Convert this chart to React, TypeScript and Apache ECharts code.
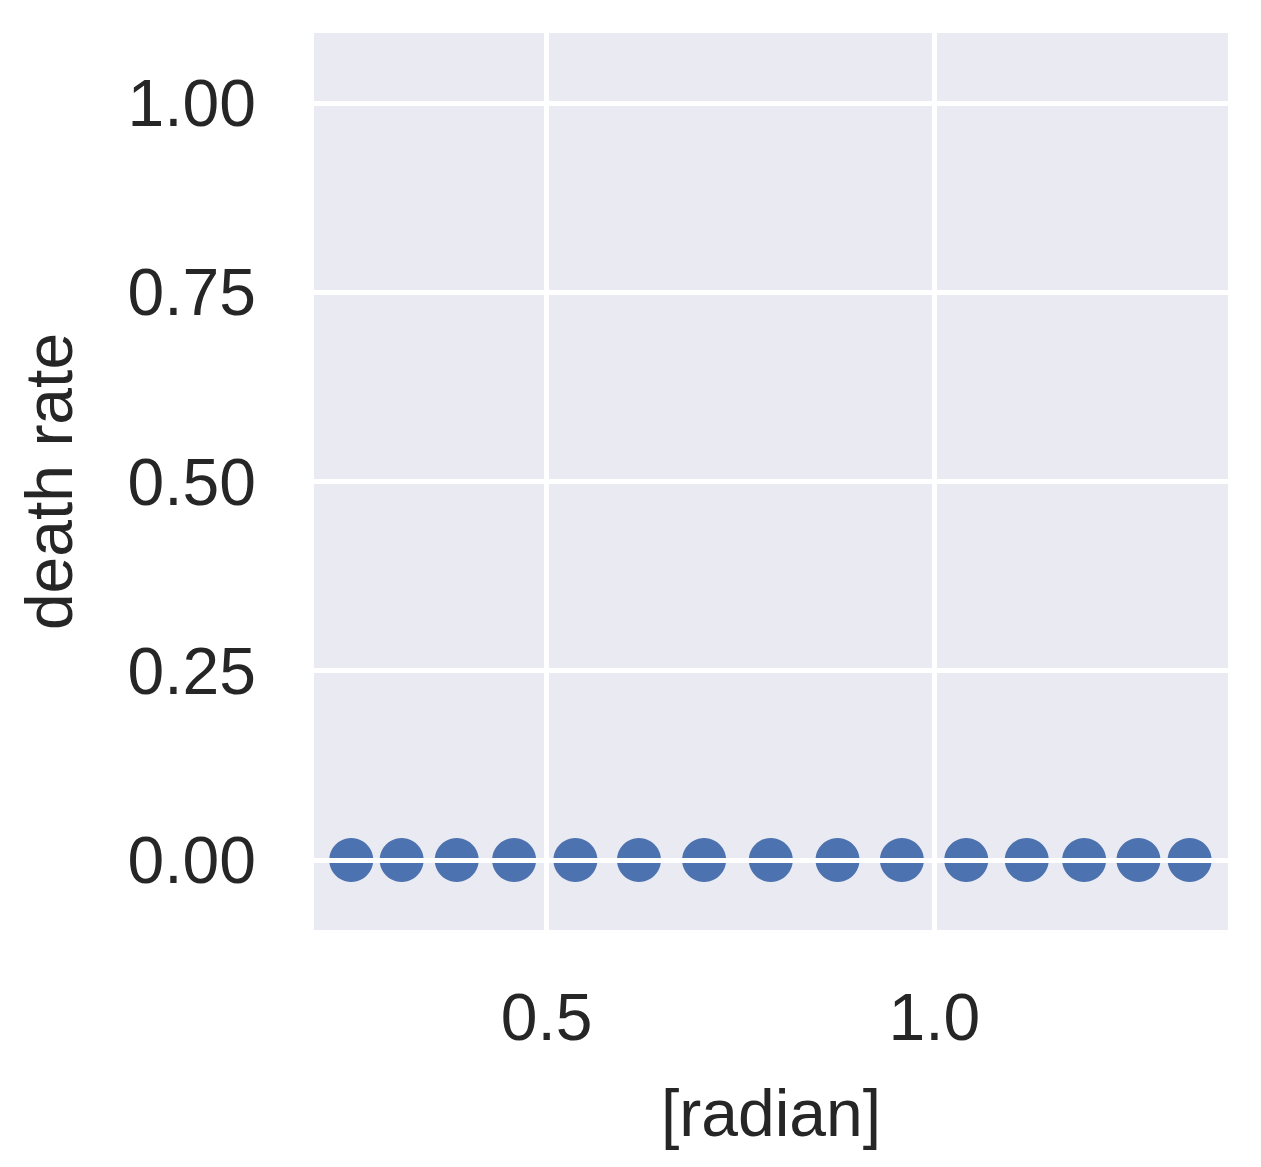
import React, { useEffect, useRef } from "react";
import * as echarts from "echarts";

const xValues = [0.248, 0.313, 0.384, 0.458, 0.537, 0.619, 0.703, 0.789, 0.875, 0.958, 1.041, 1.119, 1.193, 1.263, 1.329];
const yValues = [0, 0, 0, 0, 0, 0, 0, 0, 0, 0, 0, 0, 0, 0, 0];
const xTicks = [0.5, 1.0];
const yTicks = [0, 0.25, 0.5, 0.75, 1.0];

const font = "'Liberation Sans', Arial, sans-serif";
const textColor = "#262626";

export default function App() {
  const chartRef = useRef<HTMLDivElement>(null);

  useEffect(() => {
    if (!chartRef.current) return;
    const chart = echarts.init(chartRef.current, undefined, { renderer: "svg" });

    const gridLine = { color: "#ffffff", width: 5, type: "solid" };

    chart.setOption({
      animation: false,
      grid: {
        left: 298,
        right: 25,
        top: 25,
        bottom: 229,
        show: true,
        backgroundColor: "#EAEAF2",
        borderWidth: 0,
      },
      xAxis: {
        type: "value",
        min: 0.2,
        max: 1.3785,
        name: "[radian]",
        nameLocation: "middle",
        nameGap: 150,
        nameTextStyle: { fontSize: 66, color: textColor, fontFamily: font },
        axisLine: { show: false },
        axisTick: { show: false },
        splitLine: { show: false },
        axisLabel: {
          customValues: xTicks,
          formatter: (v: number) => v.toFixed(1),
          fontSize: 66,
          color: textColor,
          fontFamily: font,
          margin: 54,
        },
      },
      yAxis: {
        type: "value",
        min: -0.0925,
        max: 1.0925,
        name: "death rate",
        nameLocation: "middle",
        nameGap: 232,
        nameTextStyle: { fontSize: 66, color: textColor, fontFamily: font },
        axisLine: { show: false },
        axisTick: { show: false },
        splitLine: { show: false },
        axisLabel: {
          customValues: yTicks,
          formatter: (v: number) => v.toFixed(2),
          fontSize: 66,
          color: textColor,
          fontFamily: font,
          margin: 58,
        },
      },
      series: [
        {
          type: "scatter",
          data: xValues.map((x, i) => [x, yValues[i]]),
          symbolSize: 44,
          itemStyle: { color: "#4C72B0", opacity: 1 },
          z: 3,
          markLine: {
            silent: true,
            symbol: "none",
            label: { show: false },
            lineStyle: gridLine,
            data: [
              ...xTicks.map((v) => ({ xAxis: v })),
              ...yTicks.map((v) => ({ yAxis: v })),
            ],
          },
        },
      ],
    });

    return () => chart.dispose();
  }, []);

  return <div ref={chartRef} style={{ width: 1245, height: 1151 }} />;
}
